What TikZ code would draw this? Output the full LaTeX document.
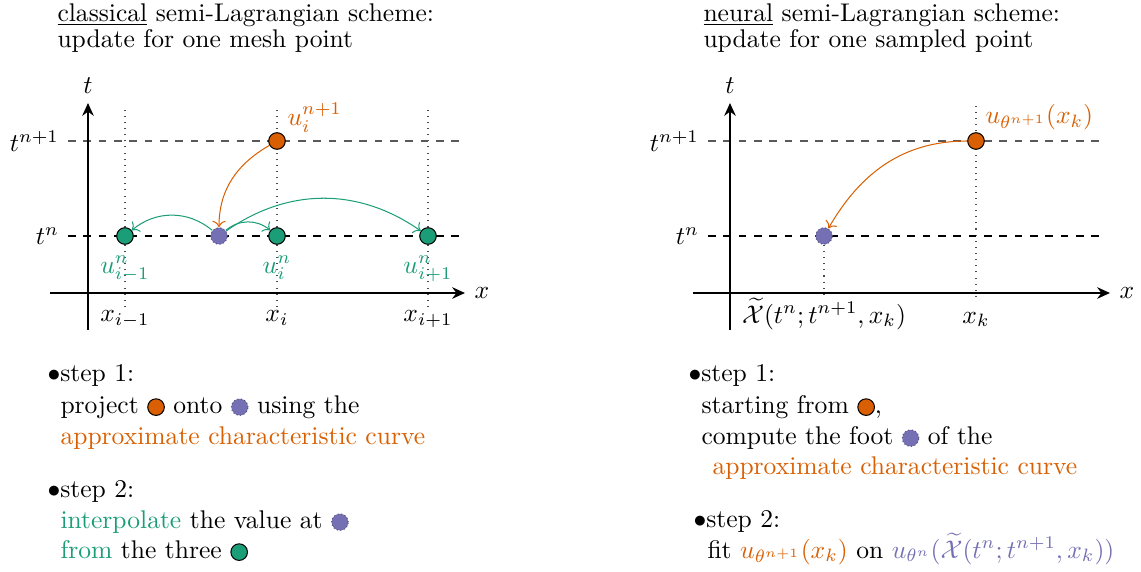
\documentclass[tikz,border=0pt]{standalone}
\usepackage{xcolor}
\usepackage{tikz}
\usetikzlibrary{positioning,arrows.meta}
\definecolor{orng}{HTML}{D95F02}
\definecolor{grn}{HTML}{1B9E77}
\definecolor{purp}{HTML}{7570B3}
\tikzset{
  axis/.style={thick,-{Stealth[length=5pt,width=4.5pt]}},
  lvl/.style={dashed,thin},
  mesh/.style={dotted,black!70},
  pt/.style={circle,draw,inner sep=0pt,minimum size=6.5pt},
  newpt/.style={pt,fill=orng},
  oldpt/.style={pt,fill=grn},
  footpt/.style={pt,fill=purp,draw=purp!70!black,densely dotted},
  charc/.style={->,orng},
  interp/.style={->,grn},
  ln/.style={anchor=base west,inner sep=0pt},
}
\newcommand{\ptnew}{\tikz[baseline=-2.3pt]\node[newpt]{};}
\newcommand{\ptold}{\tikz[baseline=-2.3pt]\node[oldpt]{};}
\newcommand{\ptfoot}{\tikz[baseline=-2.3pt]\node[footpt]{};}
\newcommand{\txtline}[4]{\node[ln] (#1) at (#2,#3) {#4};}

\begin{document}
\begin{tikzpicture}[x=0.01375cm,y=0.01375cm]
\useasboundingbox (0,0) rectangle (1141,571);
% classical scheme
\txtline{lt1}{57}{550}{\underline{classical} semi-Lagrangian scheme:}
\txtline{lt2}{57}{524}{update for one mesh point}
\foreach \xx in {125,277,428} \draw[mesh] (\xx,264) -- (\xx,466);
\draw[lvl,black!65] (68,430) -- (460,430);
\draw[lvl] (68,335) -- (460,335);
\node[left] (ltn1) at (68,430) {$t^{n+1}$};
\node[left] (ltn) at (68,335) {$t^{n}$};
\draw[axis] (50,278) -- (465,278) node[right] (lxa) {$x$};
\draw[axis] (88,241) -- (88,468) node[above] (lta) {$t$};
\node[anchor=base] (lxm) at (125,249) {$x_{i-1}$};
\node[anchor=base] (lx0) at (277,249) {$x_{i}$};
\node[anchor=base] (lxp) at (428,249) {$x_{i+1}$};
\node[newpt] (u1) at (277,430) {};
\node[footpt] (f1) at (219,335) {};
\node[oldpt] (gm) at (125,335) {};
\node[oldpt] (g0) at (277,335) {};
\node[oldpt] (gp) at (428,335) {};
\node[anchor=base west,inner sep=0pt,text=orng] (lu1) at (287,446) {$u_i^{n+1}$};
\node[anchor=base,text=grn] (lgm) at (125,298) {$u^n_{i-1}$};
\node[anchor=base,text=grn] (lg0) at (277,298) {$u^n_{i}$};
\node[anchor=base,text=grn] (lgp) at (428,298) {$u^n_{i+1}$};
\draw[charc] (u1) to[out=210,in=90] (f1);
\draw[interp] (f1) to[bend right=40] (gm);
\draw[interp] (f1) to[bend left=40] (g0);
\draw[interp] (f1) to[bend left=35] (gp);
\txtline{s1a}{47}{189}{$\bullet$step 1:}
\txtline{s1b}{60}{158}{project \ptnew{} onto \ptfoot{} using the}
\txtline{s1c}{60}{127}{\textcolor{orng}{approximate characteristic curve}}
\txtline{s2a}{47}{74}{$\bullet$step 2:}
\txtline{s2b}{60}{43}{\textcolor{grn}{interpolate} the value at \ptfoot}
\txtline{s2c}{60}{13}{\textcolor{grn}{from} the three \ptold}
% neural scheme
\txtline{rt1}{703}{550}{\underline{neural} semi-Lagrangian scheme:}
\txtline{rt2}{703}{524}{update for one sampled point}
\draw[mesh] (976,274) -- (976,466);
\draw[lvl,black!65] (708,430) -- (1103,430);
\draw[lvl] (708,335) -- (1103,335);
\node[left] (rtn1) at (708,430) {$t^{n+1}$};
\node[left] (rtn) at (708,335) {$t^{n}$};
\draw[axis] (693,278) -- (1110,278) node[right] (rxa) {$x$};
\draw[axis] (730,241) -- (730,468) node[above] (rta) {$t$};
\node[newpt] (u2) at (976,430) {};
\node[footpt] (f2) at (824,335) {};
\draw[mesh] (f2) -- (824,274);
\node[anchor=base] (rxk) at (976,248) {$x_k$};
\node[anchor=base] (rfoot) at (824,248) {$\widetilde{\mathcal{X}}(t^n;t^{n+1},x_k)$};
\node[anchor=base west,inner sep=0pt,text=orng] (lu2) at (985,447) {$u_{\theta^{n+1}}(x_k)$};
\draw[charc] (u2) to[out=180,in=60] (f2);
\txtline{r1a}{688}{189}{$\bullet$step 1:}
\txtline{r1b}{701}{158}{starting from \ptnew,}
\txtline{r1c}{701}{127}{compute the foot \ptfoot{} of the}
\txtline{r1d}{712}{97}{\textcolor{orng}{approximate characteristic curve}}
\txtline{r2a}{693}{44}{$\bullet$step 2:}
\txtline{r2b}{707}{13}{fit \textcolor{orng}{$u_{\theta^{n+1}}(x_k)$} on \textcolor{purp}{$u_{\theta^n}(\widetilde{\mathcal{X}}(t^n;t^{n+1},x_k))$}}
\end{tikzpicture}
\end{document}
